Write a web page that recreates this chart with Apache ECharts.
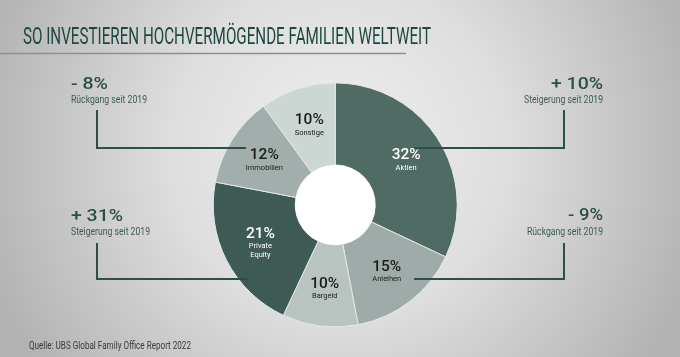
<!DOCTYPE html>
<html><head><meta charset="utf-8">
<script src="https://cdn.jsdelivr.net/npm/echarts@6/dist/echarts.min.js"></script>
<style>html,body{margin:0;padding:0;}#c{width:680px;height:357px;}</style>
</head><body><div id="c"></div>
<script>
const titleText = 'SO INVESTIEREN HOCHVERMÖGENDE FAMILIEN WELTWEIT';
const sourceText = 'Quelle: UBS Global Family Office Report 2022';
const categories = ['Aktien', 'Anleihen', 'Bargeld', 'Private\nEquity', 'Immobilien', 'Sonstige'];
const shares = [32, 15, 10, 21, 12, 10];
const changeValues = ['- 8%', '+ 10%', '+ 31%', '- 9%'];
const changeLabels = ['Rückgang seit 2019', 'Steigerung seit 2019', 'Steigerung seit 2019', 'Rückgang seit 2019'];

const sliceColors = ['#4f6b64', '#9eaba8', '#b9c3c0', '#3d5a54', '#a2aeab', '#ccd6d3'];
const labelColors = ['#ffffff', '#1c1c1c', '#1c1c1c', '#ffffff', '#1c1c1c', '#1c1c1c'];

const ctx = document.createElement('canvas').getContext('2d');
function fitScale(text, font, target) {
  ctx.font = font;
  return target / ctx.measureText(text).width;
}

const green = '#2b4f47';
const graphics = [];
const titleFont = '24px Roboto';
graphics.push({type: 'text', x: 23, y: 38, z: 50, scaleX: fitScale(titleText, titleFont, 408),
  style: {text: titleText, font: titleFont, fill: '#1f4740', verticalAlign: 'middle', align: 'left'}});
graphics.push({type: 'line', z: 50, shape: {x1: 0, y1: 53.5, x2: 406, y2: 53.5}, style: {stroke: '#84958f', lineWidth: 1.5}});
const srcFont = '10px Roboto';
graphics.push({type: 'text', x: 29, y: 346, z: 50, scaleX: fitScale(sourceText, srcFont, 162),
  style: {text: sourceText, font: srcFont, fill: '#3a3a3a', verticalAlign: 'middle', align: 'left'}});

const annLayout = [
  {x: 71, align: 'left', ny: 85, sy: 100, nw: 37, sw: 76, pts: [[97, 110], [97, 148], [246, 148]]},
  {x: 603, align: 'right', ny: 85, sy: 100, nw: 52, sw: 79, pts: [[564, 110], [564, 148], [414, 148]]},
  {x: 71, align: 'left', ny: 217, sy: 232, nw: 52, sw: 79, pts: [[97, 243], [97, 279], [247, 279]]},
  {x: 603, align: 'right', ny: 216, sy: 232, nw: 35, sw: 76, pts: [[564, 243], [564, 279], [414, 279]]}
];
const numFont = '500 17px Roboto';
const subFont = '10px Roboto';
annLayout.forEach((a, i) => {
  graphics.push({type: 'text', x: a.x, y: a.ny, z: 50, scaleX: fitScale(changeValues[i], numFont, a.nw),
    style: {text: changeValues[i], font: numFont, fill: green, align: a.align, verticalAlign: 'middle'}});
  graphics.push({type: 'text', x: a.x, y: a.sy, z: 50, scaleX: fitScale(changeLabels[i], subFont, a.sw),
    style: {text: changeLabels[i], font: subFont, fill: '#3c5c55', align: a.align, verticalAlign: 'middle'}});
  graphics.push({type: 'polyline', z: 60, shape: {points: a.pts}, style: {stroke: '#2d4f48', lineWidth: 2, fill: null}});
});

const pieCenter = ['49.3%', '57.4%'];
const chart = echarts.init(document.getElementById('c'), null, {renderer: 'canvas'});
chart.setOption({
  backgroundColor: {type: 'radial', x: 0.5, y: 0.42, r: 1.05,
    colorStops: [{offset: 0, color: '#efefef'}, {offset: 0.45, color: '#dedede'}, {offset: 1, color: '#b2b2b2'}]},
  animation: false,
  graphic: graphics,
  series: [{
    type: 'pie',
    center: pieCenter,
    radius: [40, 122],
    startAngle: 90,
    clockwise: true,
    avoidLabelOverlap: false,
    itemStyle: {borderColor: '#e4e8e6', borderWidth: 1},
    label: {
      show: true,
      position: 'inside',
      formatter: p => '{p|' + p.value + '%}\n{n|' + p.name.replace('\n', '}\n{n|') + '}',
      rich: {
        p: {fontFamily: 'Roboto', fontSize: 15.5, fontWeight: 500, lineHeight: 16, align: 'center'},
        n: {fontFamily: 'Roboto', fontSize: 7.5, lineHeight: 9, align: 'center'}
      }
    },
    labelLine: {show: false},
    emphasis: {disabled: true},
    data: categories.map((c, i) => ({
      name: c, value: shares[i],
      itemStyle: {color: sliceColors[i]},
      label: {color: labelColors[i], rich: {p: {color: labelColors[i]}, n: {color: labelColors[i]}}}
    }))
  }, {
    type: 'pie',
    center: pieCenter,
    radius: [0, 40],
    silent: true,
    label: {show: false},
    labelLine: {show: false},
    itemStyle: {color: '#ffffff'},
    data: [{name: 'hole', value: 1}]
  }]
});
</script></body></html>
